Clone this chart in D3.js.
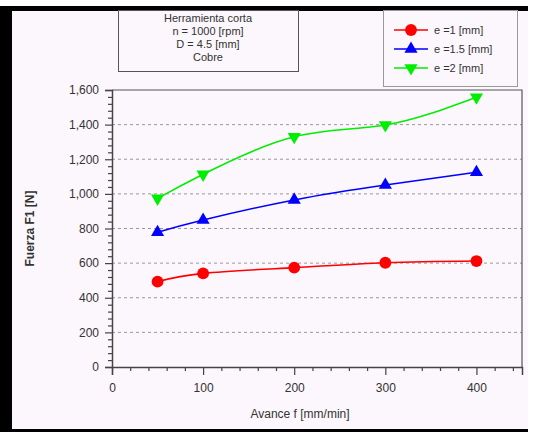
<!DOCTYPE html>
<html><head><meta charset="utf-8">
<script src="https://cdn.jsdelivr.net/npm/d3@7"></script>
<style>body{margin:0;background:#fff;}svg{display:block;font-family:"Liberation Sans",Arial,sans-serif;}</style>
</head><body>
<svg id="c" width="537" height="432"></svg>
<script>
const feed = [50, 100, 200, 300, 400];
const e1 = [493, 541, 574, 602, 612];
const e15 = [778, 849, 965, 1051, 1125];
const e2 = [974, 1113, 1330, 1398, 1558];
const seriesNames = ["e =1 [mm]", "e =1.5 [mm]", "e =2 [mm]"];
const seriesColors = ["#ff0000", "#0000ff", "#00ee00"];
const yTicks = [0, 200, 400, 600, 800, 1000, 1200, 1400, 1600];
const xTicks = [0, 100, 200, 300, 400];
const infoLines = ["Herramienta corta", "n  = 1000 [rpm]", "D = 4.5 [mm]", "Cobre"];

const svg = d3.select("#c");
// frame
svg.append("rect").attr("x",0).attr("y",7).attr("width",528).attr("height",425).attr("fill","#fcf7fc");
svg.append("rect").attr("x",0).attr("y",6).attr("width",528).attr("height",5).attr("fill","#000");
svg.append("rect").attr("x",0).attr("y",6).attr("width",12).attr("height",426).attr("fill","#000");
svg.append("rect").attr("x",0).attr("y",429).attr("width",528).attr("height",3).attr("fill","#000");

const x = d3.scaleLinear().domain([0,450]).range([112,522]);
const y = d3.scaleLinear().domain([0,1600]).range([367,90]);

// grid
svg.append("g").selectAll("line").data(yTicks.filter(d=>d>0&&d<1600)).join("line")
  .attr("x1",x(0)).attr("x2",x(450)).attr("y1",d=>y(d)).attr("y2",d=>y(d))
  .attr("stroke","#999").attr("stroke-dasharray","3,3").attr("stroke-width",1);

// plot border top/right
svg.append("path").attr("d",`M${x(0)},${y(1600)}H${x(450)}V${y(0)}`).attr("fill","none").attr("stroke","#555").attr("stroke-width",1.2);

// axes
const yAxis = d3.axisLeft(y).tickValues(yTicks).tickFormat(d3.format(",")).tickSize(7).tickPadding(6);
const gy = svg.append("g").attr("transform",`translate(${x(0)},0)`).call(yAxis);
const yMinor = d3.axisLeft(y).tickValues(d3.range(0,1601,40).filter(d=>d%200)).tickFormat("").tickSize(4);
const gym = svg.append("g").attr("transform",`translate(${x(0)},0)`).call(yMinor);
const xAxis = d3.axisBottom(x).tickValues(xTicks).tickSize(8).tickPadding(8);
const gx = svg.append("g").attr("transform",`translate(0,${y(0)})`).call(xAxis);
const xMinor = d3.axisBottom(x).tickValues(d3.range(0,441,20).filter(d=>d%100)).tickFormat("").tickSize(4);
const gxm = svg.append("g").attr("transform",`translate(0,${y(0)})`).call(xMinor);
[gy,gym,gx,gxm].forEach(g=>{
  g.select(".domain").attr("stroke","#444").attr("stroke-width",1.5);
  g.selectAll("line").attr("stroke","#444").attr("stroke-width",1.2);
  g.selectAll("text").attr("font-size",12).attr("fill","#333").attr("font-family","Liberation Sans, Arial, sans-serif");
});
gym.select(".domain").remove(); gxm.select(".domain").remove();

// axis labels
svg.append("text").attr("x",300).attr("y",418).attr("text-anchor","middle").attr("font-size",12).attr("fill","#333").text("Avance f [mm/min]");
svg.append("text").attr("transform",`translate(34,${(y(0)+y(1600))/2}) rotate(-90)`).attr("text-anchor","middle").attr("font-size",12).attr("font-weight","bold").attr("fill","#333").text("Fuerza F1 [N]");

// series
const allSeries = [e1, e15, e2];
const line = d3.line().x(d=>x(d[0])).y(d=>y(d[1])).curve(d3.curveNatural);
const symbols = [d3.symbolCircle, d3.symbolTriangle, d3.symbolTriangle];
const rot = [0, 0, 180];
const sizes = [110, 75, 75];
allSeries.forEach((vals,i)=>{
  const pts = feed.map((f,j)=>[f, vals[j]]);
  svg.append("path").attr("d",line(pts)).attr("fill","none").attr("stroke",seriesColors[i]).attr("stroke-width",1.6);
  svg.append("g").selectAll("path").data(pts).join("path")
    .attr("d",d3.symbol().type(symbols[i]).size(sizes[i]))
    .attr("transform",d=>`translate(${x(d[0])},${y(d[1])}) rotate(${rot[i]})`)
    .attr("fill",seriesColors[i]);
});

// info box
svg.append("rect").attr("x",118.5).attr("y",10.5).attr("width",180).attr("height",61).attr("fill","#fcf7fc").attr("stroke","#555").attr("stroke-width",1);
svg.append("g").selectAll("text").data(infoLines).join("text")
  .attr("x",208).attr("y",(d,i)=>22+i*13).attr("text-anchor","middle").attr("font-size",11).attr("fill","#333").text(d=>d);

// legend
svg.append("rect").attr("x",383.5).attr("y",10.5).attr("width",134).attr("height",76).attr("fill","#fcf7fc").attr("stroke","#999").attr("stroke-width",1);
const lg = svg.append("g");
seriesNames.forEach((n,i)=>{
  const ly = 30 + i*19;
  lg.append("line").attr("x1",394).attr("x2",428).attr("y1",ly).attr("y2",ly).attr("stroke",seriesColors[i]).attr("stroke-width",1.6);
  lg.append("path").attr("d",d3.symbol().type(symbols[i]).size(sizes[i]))
    .attr("transform",`translate(411,${ly}) rotate(${rot[i]})`).attr("fill",seriesColors[i]);
  lg.append("text").attr("x",434).attr("y",ly+4).attr("font-size",11).attr("fill","#333").text(n);
});
</script>
</body></html>
